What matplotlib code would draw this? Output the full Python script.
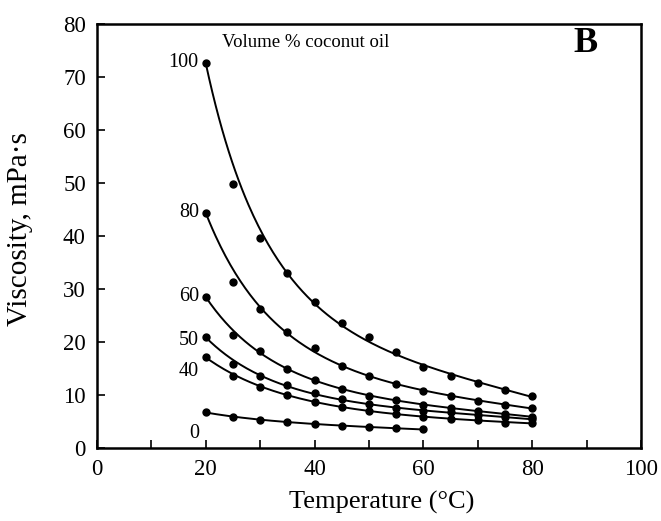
import numpy as np
import matplotlib
matplotlib.use("Agg")
import matplotlib.pyplot as plt
from matplotlib.ticker import MultipleLocator

plt.rcParams['font.family'] = ['Liberation Serif', 'DejaVu Serif']

# temperatures (°C)
temp = [20, 25, 30, 35, 40, 45, 50, 55, 60, 65, 70, 75, 80]
temp_0 = [20, 25, 30, 35, 40, 45, 50, 55, 60]

# viscosity (mPa·s) by volume % coconut oil
visc_100 = [72.7, 49.8, 39.7, 33.0, 27.6, 23.5, 21.0, 18.2, 15.2, 13.6, 12.2, 10.9, 9.9]
visc_80 = [44.4, 31.4, 26.2, 21.9, 18.9, 15.5, 13.6, 12.0, 10.8, 9.9, 8.9, 8.2, 7.5]
visc_60 = [28.5, 21.4, 18.3, 14.9, 12.8, 11.2, 9.9, 9.0, 8.2, 7.5, 7.0, 6.4, 5.9]
visc_50 = [20.9, 15.8, 13.6, 11.8, 10.4, 9.2, 8.3, 7.5, 7.0, 6.7, 6.2, 5.9, 5.4]
visc_40 = [17.1, 13.6, 11.6, 10.0, 8.7, 7.8, 7.0, 6.5, 5.9, 5.4, 5.3, 4.8, 4.7]
visc_0 = [6.7, 5.9, 5.3, 5.0, 4.5, 4.2, 4.0, 3.7, 3.5]

series = [
    ('100', temp, visc_100, 0),
    ('80', temp, visc_80, 0),
    ('60', temp, visc_60, 0),
    ('50', temp, visc_50, -2),
    ('40', temp, visc_40, -10),
    ('0', temp_0, visc_0, -15),
]

fig = plt.figure(figsize=(6.61, 5.21), dpi=100)
ax = fig.add_axes([0.1467, 0.1401, 0.8230, 0.8139])

for name, x, y, dy in series:
    x = np.array(x, dtype=float)
    y = np.array(y, dtype=float)
    # smooth fitted curve through the points (ln visc, cubic in T), first point weighted
    w = np.ones_like(x)
    w[0] = 6
    coef = np.polyfit(x, np.log(y), 3, w=w)
    xs = np.linspace(x.min(), x.max(), 200)
    ax.plot(xs, np.exp(np.polyval(coef, xs)), color='black', lw=1.4)
    ax.plot(x, y, 'o', color='black', ms=5)
    ax.annotate(name, (x[0], y[0]), xytext=(-5, dy), textcoords='offset points',
                ha='right', va='center', fontsize=14.5)

ax.text(23, 76.5, 'Volume % coconut oil', fontsize=13.5, va='center')
ax.text(87.5, 76.3, 'B', fontsize=26, fontweight='bold', va='center')

ax.set_xlim(0, 100)
ax.set_ylim(0, 80)
ax.xaxis.set_major_locator(MultipleLocator(20))
ax.xaxis.set_minor_locator(MultipleLocator(10))
ax.yaxis.set_major_locator(MultipleLocator(10))
ax.tick_params(direction='in', length=6, width=1.2, labelsize=16.5, top=False, right=False, pad=8)
ax.tick_params(which='minor', direction='in', length=6, width=1.2)
for s in ax.spines.values():
    s.set_linewidth(1.8)

ax.set_xlabel('Temperature (°C)', fontsize=19)
ax.set_ylabel('Viscosity, mPa·s', fontsize=21)
ax.xaxis.set_label_coords(0.524, -0.1)
ax.yaxis.set_label_coords(-0.118, 0.516)

fig.savefig('out.png', dpi=100)
